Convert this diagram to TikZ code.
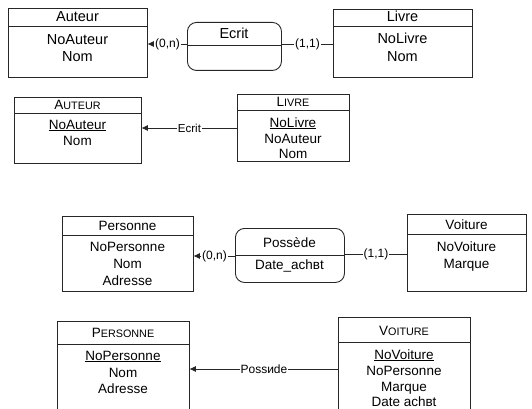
\documentclass[tikz,border=0pt]{standalone}
\usepackage{fontspec}
\setmainfont{Liberation Sans}
\usetikzlibrary{arrows.meta}
% header names in small capitals: first letter full size, the rest smaller
\newcommand{\hdsc}[2]{#1{\fontsize{10.8pt}{13pt}\selectfont #2}}
\begin{document}
\begin{tikzpicture}[x=1pt,y=-1pt,
  ent/.style={draw=black!85, line width=0.9pt, inner sep=0pt, anchor=north west},
  rel/.style={ent, rounded corners=9pt},
  sep/.style={draw=black!85, line width=0.9pt},
  tA/.style={font=\fontsize{14.5pt}{17pt}\selectfont, inner sep=0pt, anchor=base},
  tB/.style={font=\fontsize{13.5pt}{16pt}\selectfont, inner sep=0pt, anchor=base},
  lbl/.style={font=\fontsize{12pt}{14pt}\selectfont, fill=white, inner sep=1pt},
  con/.style={draw=black!85, line width=0.9pt},
  arr/.style={con, -{Triangle[length=6pt,width=5.5pt]}}]
\clip (0,0) rectangle (532,409);

% ---- Auteur -- Ecrit -- Livre (conceptual model)
\node[ent, minimum width=139pt, minimum height=69pt] (auteur) at (8,8) {};
\draw[sep] (auteur.west |- 0,26) -- (auteur.east |- 0,26);
\node[tA] (auteurH) at (77.5,22) {Auteur};
\node[tA] (auteur1) at (77.5,45) {NoAuteur};
\node[tA] (auteur2) at (77.5,62) {Nom};

\node[rel, minimum width=94pt, minimum height=48pt] (ecrit) at (187,22) {};
\draw[sep] (ecrit.west |- 0,45) -- (ecrit.east |- 0,45);
\node[tA] (ecritH) at (234,39) {Ecrit};

\node[ent, minimum width=139pt, minimum height=68pt] (livre) at (333,9) {};
\draw[sep] (livre.west |- 0,26) -- (livre.east |- 0,26);
\node[tA] (livreH) at (402.5,22) {Livre};
\node[tA] (livre1) at (402.5,44) {NoLivre};
\node[tA] (livre2) at (402.5,62) {Nom};

\draw[arr] (ecrit.west |- 0,44) -- node[lbl] {(0,n)} (auteur.east |- 0,44);
\draw[con] (ecrit.east |- 0,44) -- node[lbl] {(1,1)} (livre.west |- 0,44);

% ---- AUTEUR <- LIVRE (relational model)
\node[ent, minimum width=127pt, minimum height=66pt] (tauteur) at (14,97) {};
\draw[sep] (tauteur.west |- 0,113) -- (tauteur.east |- 0,113);
\node[tB] (tauteurH) at (77.5,110) {\hdsc{A}{UTEUR}};
\node[tB] (tauteur1) at (77.5,129) {\underline{NoAuteur}};
\node[tB] (tauteur2) at (77.5,145) {Nom};

\node[ent, minimum width=112pt, minimum height=67pt] (tlivre) at (237,94) {};
\draw[sep] (tlivre.west |- 0,110) -- (tlivre.east |- 0,110);
\node[tB] (tlivreH) at (293,106.5) {\hdsc{L}{IVRE}};
\node[tB] (tlivre1) at (293,127) {\underline{NoLivre}};
\node[tB] (tlivre2) at (293,143) {NoAuteur};
\node[tB] (tlivre3) at (293,158) {Nom};

\draw[arr] (tlivre.west |- 0,128) -- node[lbl, font=\fontsize{11.5pt}{14pt}\selectfont] {Ecrit} (tauteur.east |- 0,128);

% ---- Personne -- Possède -- Voiture (conceptual model)
\node[ent, minimum width=131pt, minimum height=75pt] (pers) at (62,216) {};
\draw[sep] (pers.west |- 0,235) -- (pers.east |- 0,235);
\node[tB] (persH) at (127.5,230) {Personne};
\node[tB] (pers1) at (127.5,251) {NoPersonne};
\node[tB] (pers2) at (127.5,268) {Nom};
\node[tB] (pers3) at (127.5,285) {Adresse};

\node[rel, minimum width=109pt, minimum height=54pt] (poss) at (235,228) {};
\draw[sep] (poss.west |- 0,255) -- (poss.east |- 0,255);
\node[tB] (possH) at (289.5,247) {Possède};
\node[tB] (poss1) at (289.5,269) {Date\_achвt};

\node[ent, minimum width=119pt, minimum height=77pt] (voit) at (407,214) {};
\draw[sep] (voit.west |- 0,234) -- (voit.east |- 0,234);
\node[tB] (voitH) at (466.5,229) {Voiture};
\node[tB] (voit1) at (466.5,251) {NoVoiture};
\node[tB] (voit2) at (466.5,268) {Marque};

\draw[arr] (poss.west |- 0,256) -- node[lbl] {(0,n)} (pers.east |- 0,256);
\draw[con] (poss.east |- 0,254) -- node[lbl] {(1,1)} (voit.west |- 0,254);

% ---- PERSONNE <- VOITURE (relational model)
\node[ent, minimum width=132pt, minimum height=110pt] (tpers) at (57,321) {};
\draw[sep] (tpers.west |- 0,344) -- (tpers.east |- 0,344);
\node[tB] (tpersH) at (123,337) {\hdsc{P}{ERSONNE}};
\node[tB] (tpers1) at (123,360) {\underline{NoPersonne}};
\node[tB] (tpers2) at (123,377) {Nom};
\node[tB] (tpers3) at (123,393) {Adresse};

\node[ent, minimum width=132pt, minimum height=110pt] (tvoit) at (338,317) {};
\draw[sep] (tvoit.west |- 0,342) -- (tvoit.east |- 0,342);
\node[tB] (tvoitH) at (404,335) {\hdsc{V}{OITURE}};
\node[tB] (tvoit1) at (404,359) {\underline{NoVoiture}};
\node[tB] (tvoit2) at (404,375) {NoPersonne};
\node[tB] (tvoit3) at (404,391) {Marque};
\node[tB] (tvoit4) at (404,406) {Date achвt};

\draw[arr] (tvoit.west |- 0,369) -- node[lbl] {Possиde} (tpers.east |- 0,369);
\end{tikzpicture}
\end{document}
